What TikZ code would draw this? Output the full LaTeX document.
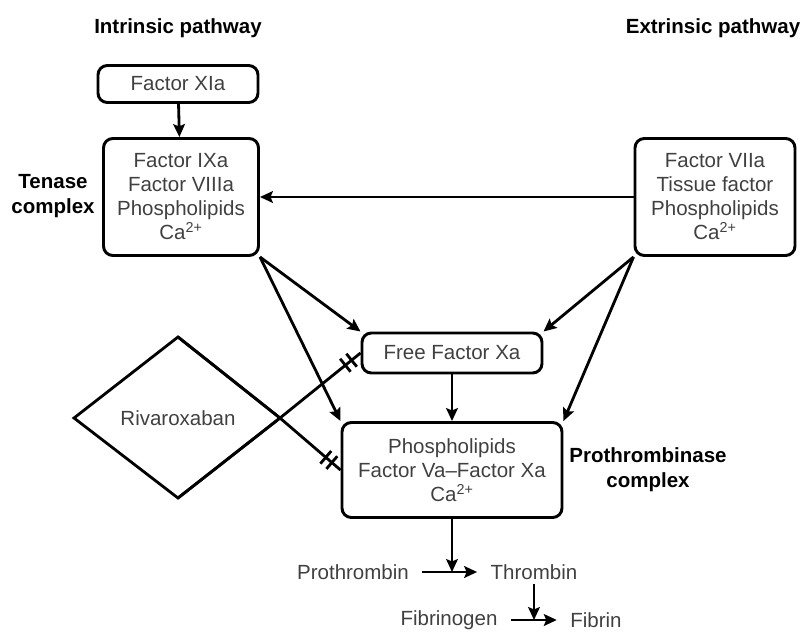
\documentclass[tikz,border=0pt]{standalone}
\usepackage{fontspec}
\setmainfont{Liberation Sans}
\usetikzlibrary{arrows.meta,positioning,decorations.markings,calc}

\begin{document}
\begin{tikzpicture}[
      x=0.03cm, y=-0.03cm,
      every node/.style={font=\fontsize{17.5}{20.5}\selectfont},
      box/.style={rectangle, draw, line width=2.5pt, rounded corners=8pt,
                  align=center, text=black!75, inner sep=0pt},
      lbl/.style={font=\fontsize{17.5}{21.5}\selectfont\bfseries, align=center},
      plain/.style={text=black!75, inner xsep=0.4cm},
      arrow/.style={-{Stealth[length=11pt,width=10pt,inset=2pt]}, line width=2.4pt},
      bar/.style={line width=2.4pt},
      inhibit/.style={line width=2.4pt, postaction={decorate},
                  decoration={markings,
                    mark=at position -0.58cm with {\draw[bar] (0,-0.25cm) -- (0,0.25cm);},
                    mark=at position -0.34cm with {\draw[bar] (0,-0.25cm) -- (0,0.25cm);}}},
    ]
    \useasboundingbox (0,0) rectangle (804,633);

    \node[lbl] (intr) at (178,28) {Intrinsic pathway};
    \node[lbl] (extr) at (713,28) {Extrinsic pathway};

    \node[box, minimum width=4.8cm, minimum height=1.11cm] (xia) at (178,84) {Factor XIa};
    \node[box, minimum width=4.65cm, minimum height=3.51cm] (tenase) at (181,197)
         {Factor IXa\\Factor VIIIa\\Phospholipids\\Ca\textsuperscript{2+}};
    \node[box, minimum width=4.8cm, minimum height=3.51cm] (ext) at (715,197)
         {Factor VIIa\\Tissue factor\\Phospholipids\\Ca\textsuperscript{2+}};
    \node[lbl] (tenlbl) at (53,196) {Tenase\\complex};

    \node[box, minimum width=5.4cm, minimum height=1.2cm] (freexa) at (452,353) {Free Factor Xa};
    \node[box, minimum width=6.6cm, minimum height=2.85cm] (prot) at (452,470)
         {Phospholipids\\Factor Va--Factor Xa\\Ca\textsuperscript{2+}};
    \node[lbl] (protlbl) at (648,470) {Prothrombinase\\complex};

    % Rivaroxaban diamond, right edges run on to the inhibited boxes
    \coordinate (rtop)    at (178,337);
    \coordinate (rleft)   at (74,418);
    \coordinate (rbottom) at (178,498);
    \coordinate (rright)  at (280,418);
    \node[plain] (riv) at (178,418) {Rivaroxaban};

    \node[plain] (prothr) at (353,572) {Prothrombin};
    \node[plain] (thromb) at (534,572) {Thrombin};
    \node[plain] (fibgen) at (449,620) {Fibrinogen};
    \node[plain] (fibrin) at (596,620) {Fibrin};

    \draw[arrow] (xia) -- (tenase);
    \draw[arrow] (ext.west) -- (tenase.east);
    \draw[arrow] (tenase.south east) -- (freexa.north west);
    \draw[arrow] (tenase.south east) -- (prot.north west);
    \draw[arrow] (ext.south west) -- (freexa.north east);
    \draw[arrow] (ext.south west) -- (prot.north east);
    \draw[arrow] (freexa) -- (prot);

    \draw[line width=2.4pt, line join=miter] (rright) -- (rtop) -- (rleft) -- (rbottom) -- (rright);
    \draw[inhibit] (rtop) -- (rright) -- (prot.west);
    \draw[inhibit] (rbottom) -- (rright) -- (freexa.west);

    \draw[arrow] (prothr) -- node[coordinate, pos=0.5] (pmid) {} (thromb);
    \draw[arrow] (prot.south) -- (prot.south |- pmid);
    \draw[arrow] (fibgen) -- node[coordinate, pos=0.5] (fmid) {} (fibrin);
    \draw[arrow] (thromb.south) -- (thromb.south |- fmid);
  \end{tikzpicture}
\end{document}
